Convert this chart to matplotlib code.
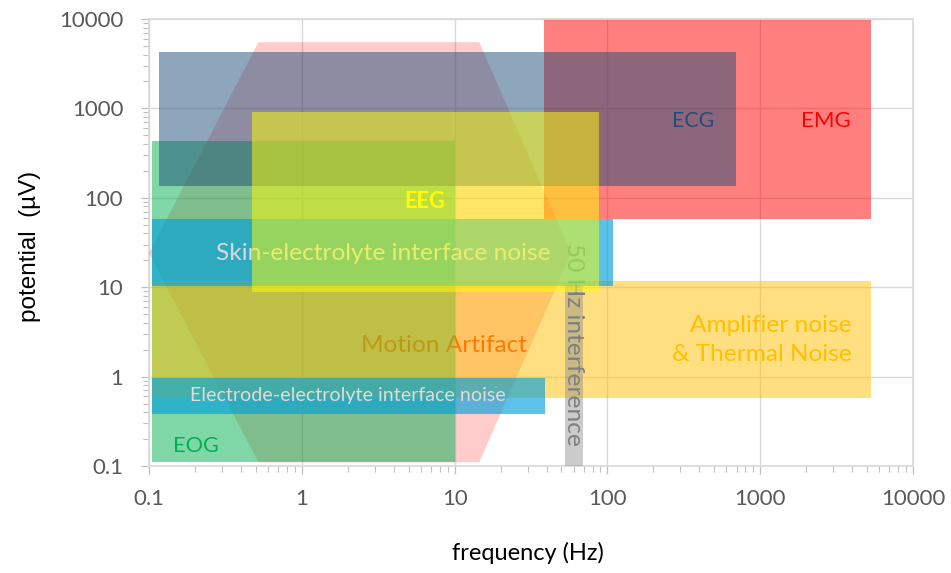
import matplotlib
matplotlib.use("Agg")
import matplotlib.pyplot as plt
from matplotlib.ticker import LogLocator, FuncFormatter, NullFormatter

# Frequency (Hz) and potential (µV) ranges of each signal / noise source
emg_f = [38.5, 5300]
emg_v = [58, 10000]
ecg_f = [0.116, 695]
ecg_v = [136, 4300]
eeg_f = [0.47, 88]
eeg_v = [8.9, 920]
eog_f = [0.105, 10]
eog_v = [0.112, 430]
skin_f = [0.105, 108]
skin_v = [10.3, 58]
electrode_f = [0.105, 39]
electrode_v = [0.38, 0.97]
amp_f = [0.105, 5300]
amp_v = [0.58, 11.7]
mains_f = [53, 69]
mains_v = [0.1, 10.5]
# motion artifact region is a hexagon in log-log space
motion_f = [0.1, 0.52, 14.5, 58, 14.5, 0.52]
motion_v = [24, 5500, 5500, 24, 0.11, 0.11]

decades = [0.1, 1, 10, 100, 1000, 10000]

BODY_FONT = ["Lato", "DejaVu Sans"]

fig = plt.figure(figsize=(9.51, 5.73), dpi=100)
ax = fig.add_axes([149 / 951, 1 - 466 / 573, (913 - 149) / 951, (466 - 19) / 573])
ax.set_xscale("log")
ax.set_yscale("log")
ax.set_xlim(decades[0], decades[-1])
ax.set_ylim(decades[0], decades[-1])


def box(f, v, color, alpha, z):
    xs = [f[0], f[1], f[1], f[0]]
    ys = [v[0], v[0], v[1], v[1]]
    ax.fill(xs, ys, color=color, alpha=alpha, lw=0, zorder=z)


box(emg_f, emg_v, "#FF0000", 0.5, 2)
ax.fill(motion_f, motion_v, color="#FF0000", alpha=0.2, lw=0, zorder=3)
box(eog_f, eog_v, "#00B050", 0.5, 5)
box(ecg_f, ecg_v, "#1F4E79", 0.5, 6)
box(amp_f, amp_v, "#FFC000", 0.5, 7)
box(mains_f, mains_v, "#8C8C8C", 0.45, 8)
box(skin_f, skin_v, "#00A0DC", 0.64, 9)
box(eeg_f, eeg_v, "#FFFF00", 0.5, 11)
box(electrode_f, electrode_v, "#00A0DC", 0.64, 12)

# axes styling
ax.xaxis.set_major_locator(LogLocator(base=10, numticks=10))
ax.yaxis.set_major_locator(LogLocator(base=10, numticks=10))
ax.xaxis.set_minor_locator(LogLocator(base=10, subs=range(2, 10), numticks=20))
ax.yaxis.set_minor_locator(LogLocator(base=10, subs=range(2, 10), numticks=20))
fmt = FuncFormatter(lambda val, pos: f"{val:g}")
ax.xaxis.set_major_formatter(fmt)
ax.yaxis.set_major_formatter(fmt)
ax.xaxis.set_minor_formatter(NullFormatter())
ax.yaxis.set_minor_formatter(NullFormatter())
ax.tick_params(which="major", direction="out", length=5.5, width=0.9,
               color="#BFBFBF", labelcolor="#595959", labelsize=16)
ax.tick_params(which="minor", direction="out", length=4, width=0.8, color="#BFBFBF")
ax.tick_params(axis="y", which="major", pad=13)
ax.tick_params(axis="x", which="major", pad=11)
for lab in ax.get_xticklabels() + ax.get_yticklabels():
    lab.set_family(BODY_FONT)
ax.grid(which="major", color="#D9D9D9", lw=1.0, zorder=0)
ax.set_axisbelow(True)
for sp in ax.spines.values():
    sp.set_color("#D9D9D9")
    sp.set_linewidth(1.2)

renderer = fig.canvas.get_renderer()


def label(x, y, s, width_px, color, z, bold=False, rotation=0, ha="center",
          use_height=False, **kw):
    t = ax.text(x, y, s, color=color, fontsize=16, ha=ha, va="center",
                family=BODY_FONT, fontweight="bold" if bold else "normal",
                rotation=rotation, zorder=z, **kw)
    bb = t.get_window_extent(renderer)
    size = bb.height if use_height else bb.width
    t.set_fontsize(16 * width_px / size)
    return t


label(363, 723, "ECG", 42, "#1F4E79", 20)
label(2700, 723, "EMG", 50, "#FF0000", 20)
label(6.4, 92, "EEG", 41, "#FFFF00", 20, bold=True)
label(0.203, 0.168, "EOG", 46, "#00B050", 20)
label(3.4, 24, "Skin-electrolyte interface noise", 334, "#D9D9D9", 10)
label(8.5, 2.2, "Motion Artifact", 166, "#FF3300", 4)
label(3990, 2.57, "Amplifier noise\n& Thermal Noise", 180, "#FFC000", 20,
      ha="right", multialignment="right", linespacing=1.42)
label(2.0, 0.61, "Electrode-electrolyte interface noise", 316, "#DCDCDC", 13)
label(60.4, 2.3, "50 Hz interference", 202, "#7F7F7F", 8.5, rotation=-90,
      use_height=True)

# axis titles
fig.text(30 / 951, 1 - 246 / 573, "potential  (µV)", rotation=90,
         ha="center", va="center", fontsize=17.5, family="Liberation Sans",
         color="black")
fig.text(528 / 951, 1 - 553 / 573, "frequency (Hz)", ha="center",
         va="center", fontsize=17, family=BODY_FONT, color="black")

fig.savefig("out.png", dpi=100)
